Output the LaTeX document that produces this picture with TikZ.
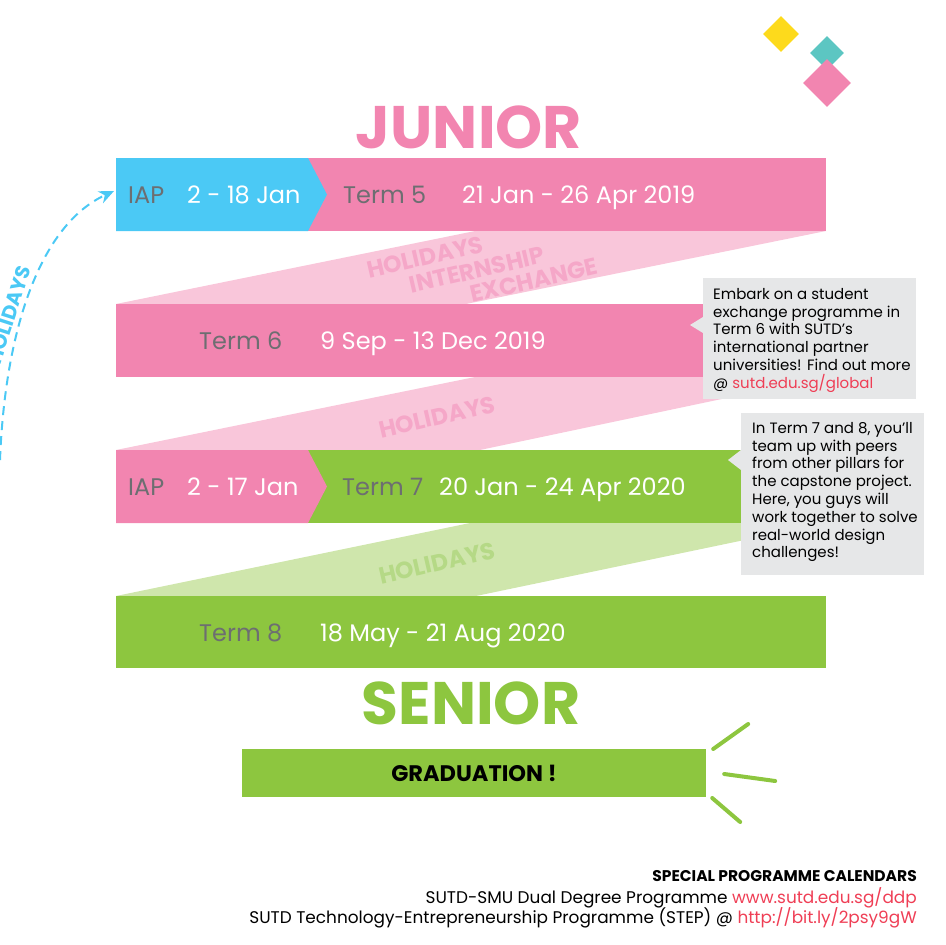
\documentclass[tikz,border=0pt]{standalone}
\usepackage{fontspec}
\setmainfont{Poppins}
\usetikzlibrary{arrows.meta, positioning, shapes.geometric, calc}
\definecolor{sutdpink}{HTML}{F285B0}
\definecolor{sutdlpink}{HTML}{F9C6DA}
\definecolor{sutdtpink}{HTML}{F5A7C8}
\definecolor{sutdblue}{HTML}{4BC9F5}
\definecolor{sutdgreen}{HTML}{8DC63F}
\definecolor{sutdlgreen}{HTML}{CFE6AC}
\definecolor{sutdtgreen}{HTML}{B5D986}
\definecolor{sutdgrey}{HTML}{6D6E71}
\definecolor{notegrey}{HTML}{E6E7E8}
\definecolor{linkred}{HTML}{EF3E55}
\definecolor{sutdyellow}{HTML}{FDDA1C}
\definecolor{sutdteal}{HTML}{5CC6C2}

\begin{document}
\begin{tikzpicture}[x=1pt, y=-1pt,
  term/.style={anchor=base west, inner sep=0pt, text=sutdgrey,
               font=\fontsize{24}{28}\selectfont},
  dates/.style={term, text=white},
  ribbontxt/.style={inner sep=0pt, rotate=13, font=\fontsize{23.5}{26}\selectfont\bfseries},
  headline/.style={anchor=base, inner sep=0pt, font=\fontsize{60}{60}\selectfont\bfseries},
  notebox/.style={fill=notegrey, anchor=north west, inner sep=0pt},
  notetxt/.style={align=left, inner sep=0pt, font=\fontsize{15}{17.8}\selectfont},
  gem/.style={diamond, inner sep=0pt},
  ray/.style={sutdgreen, line width=4pt, line cap=round},
  holarrow/.style={sutdblue, line width=2pt, dash pattern=on 9pt off 6pt,
                   -{Stealth[length=15pt, width=13pt]}},
  foot/.style={anchor=base east, inner sep=0pt, font=\fontsize{16.9}{19}\selectfont}
]
\useasboundingbox (0,0) rectangle (946,945);

% decoration
\node[gem, fill=sutdyellow, minimum size=36] (gemy) at (781,34) {};
\node[gem, fill=sutdteal, minimum size=34] (gemt) at (827,53) {};
\node[gem, fill=sutdpink, minimum size=48] (gemp) at (827,83) {};

% holiday ribbons
\fill[sutdlpink] (116,304) -- (475,231) -- (826,231) -- (466,304) -- cycle;
\fill[sutdlpink] (116,450) -- (475,377) -- (826,377) -- (480,450) -- cycle;
\fill[sutdlgreen] (116,596) -- (470,523) -- (826,523) -- (476,596) -- cycle;
\node[ribbontxt, text=sutdtpink] (hol1) at (425,257) {HOLIDAYS};
\node[ribbontxt, text=sutdtpink] (intern) at (477,270) {INTERNSHIP};
\node[ribbontxt, text=sutdtpink] (exch) at (534,280) {EXCHANGE};
\node[ribbontxt, text=sutdtpink] (hol2) at (437,417) {HOLIDAYS};
\node[ribbontxt, text=sutdtgreen] (hol3) at (437,563) {HOLIDAYS};

% term bands
\fill[sutdpink] (116,158) rectangle (826,231);
\fill[sutdblue] (116,158) -- (308,158) -- (327,194.5) -- (308,231) -- (116,231) -- cycle;
\fill[sutdpink] (116,304) rectangle (826,377);
\fill[sutdgreen] (116,450) rectangle (826,523);
\fill[sutdpink] (116,450) -- (308,450) -- (327,486.5) -- (308,523) -- (116,523) -- cycle;
\fill[sutdgreen] (116,596) rectangle (826,668);

\node[headline, text=sutdpink] (junior) at (469,148) {JUNIOR};
\node[headline, text=sutdgreen] (senior) at (471,724) {SENIOR};

\node[term] (iap1) at (128,203) {IAP};
\node[dates] (iap1d) at (187,203) {2 - 18 Jan};
\node[term] (t5) at (343,203) {Term 5};
\node[dates] (t5d) at (462,203) {21 Jan - 26 Apr 2019};
\node[term] (t6) at (199,349) {Term 6};
\node[dates] (t6d) at (320,349) {9 Sep - 13 Dec 2019};
\node[term] (iap2) at (128,495) {IAP};
\node[dates] (iap2d) at (187,495) {2 - 17 Jan};
\node[term] (t7) at (342,495) {Term 7};
\node[dates] (t7d) at (439,495) {20 Jan - 24 Apr 2020};
\node[term] (t8) at (199,641) {Term 8};
\node[dates] (t8d) at (320,641) {18 May - 21 Aug 2020};

% holidays arrow into IAP
\coordinate (holstart) at (0,460);
\coordinate (iapin) at (114,191);
\draw[holarrow] (holstart) .. controls (5,330) and (40,225) .. (iapin);
\node[inner sep=0pt, rotate=72, text=sutdblue, font=\fontsize{20}{22}\selectfont\bfseries]
  (holarc) at (9,315) {HOLIDAYS};

% notes
\node[notebox, minimum width=213, minimum height=121] (note6) at (703,278) {};
\fill[notegrey] (703,317) -- (690,325) -- (703,333) -- cycle;
\node[notetxt, below right=10pt and 10pt of note6.north west] (note6t)
  {Embark on a student\\exchange programme in\\Term 6 with SUTD’s\\international partner\\
   universities! Find out more\\@ \textcolor{linkred}{sutd.edu.sg/global}};
\node[notebox, minimum width=183, minimum height=162] (note7) at (741,413) {};
\fill[notegrey] (741,450) -- (728,460) -- (741,470) -- cycle;
\node[notetxt, below right=9pt and 11pt of note7.north west] (note7t)
  {In Term 7 and 8, you’ll\\team up with peers\\from other pillars for\\the capstone project.\\
   Here, you guys will\\work together to solve\\real-world design\\challenges!};

% graduation
\node[fill=sutdgreen, minimum width=464, minimum height=48, inner sep=0pt,
      font=\fontsize{22.5}{24}\selectfont\bfseries] (grad) at (474,773) {GRADUATION !};
\draw[ray] ($(grad.east)+(7,-24)$) -- ++(35,-25);
\draw[ray] ($(grad.east)+(18,1)$) -- ++(51,7);
\draw[ray] ($(grad.east)+(6,25)$) -- ++(28,24);

% special programmes
\node[foot, font=\fontsize{15.5}{18}\selectfont\bfseries] (fhead) at (917,881) {SPECIAL PROGRAMME CALENDARS};
\node[foot] (fddp) at (917,903) {SUTD-SMU Dual Degree Programme \textcolor{linkred}{www.sutd.edu.sg/ddp}};
\node[foot] (fstep) at (917,923) {SUTD Technology-Entrepreneurship Programme (STEP) @ \textcolor{linkred}{http://bit.ly/2psy9gW}};
\end{tikzpicture}
\end{document}
